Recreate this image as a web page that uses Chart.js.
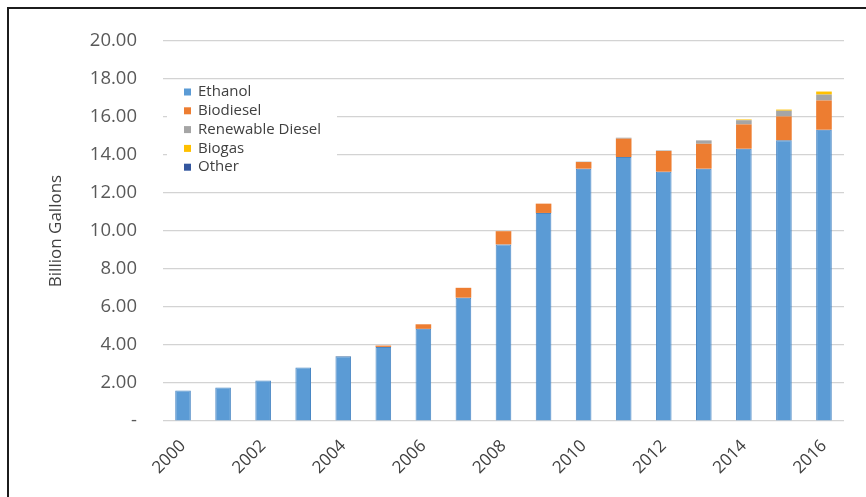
<!DOCTYPE html>
<html lang="en">
<head>
  <meta charset="UTF-8" />
  <title>Biofuel Consumption</title>
  <script src="https://cdn.jsdelivr.net/npm/chart.js"></script>
  <style>
    html, body { margin: 0; padding: 0; background: #fff; }
    #wrap { position: relative; width: 866px; height: 497px; }
    #frame {
      position: absolute; left: 7px; top: 7px; right: 0; bottom: 0;
      border-left: 2px solid #1c1c1c; border-top: 2px solid #1c1c1c;
      pointer-events: none;
    }
  </style>
</head>
<body>
  <div id="wrap">
    <canvas id="fuelChart" width="866" height="497"></canvas>
    <div id="frame"></div>
  </div>

  <script>
    // data (billion gallons)
    const years = ["2000", "2001", "2002", "2003", "2004", "2005", "2006", "2007", "2008",
                   "2009", "2010", "2011", "2012", "2013", "2014", "2015", "2016"];
    const ethanol = [1.61, 1.76, 2.13, 2.81, 3.41, 3.90, 4.85, 6.49, 9.29,
                     10.95, 13.28, 13.89, 13.12, 13.28, 14.33, 14.77, 15.33];
    const biodiesel = [0, 0, 0, 0, 0.01, 0.07, 0.24, 0.52, 0.70,
                       0.49, 0.35, 0.97, 1.09, 1.31, 1.28, 1.26, 1.54];
    const renewableDiesel = [0, 0, 0, 0, 0, 0, 0, 0, 0,
                             0, 0.02, 0.05, 0.03, 0.18, 0.22, 0.30, 0.31];
    const biogas = [0, 0, 0, 0, 0, 0, 0, 0, 0,
                    0, 0, 0, 0, 0, 0.04, 0.06, 0.16];
    const other = [0, 0, 0, 0, 0, 0, 0, 0, 0,
                   0, 0, 0, 0, 0, 0, 0, 0];
    const yTicks = [0, 2, 4, 6, 8, 10, 12, 14, 16, 18, 20];

    const FONT = "'Open Sans', 'DejaVu Sans', sans-serif";

    // legend sits inside the plot, over the gridlines, with a white box behind it
    const insideLegend = {
      id: "insideLegend",
      afterDatasetsDraw(chart) {
        const ctx = chart.ctx;
        const area = chart.chartArea;
        const x0 = area.left + 4, y0 = area.top + 42;
        ctx.save();
        ctx.fillStyle = "#fff";
        ctx.fillRect(x0, y0, 170, 92);
        ctx.font = "15px " + FONT;
        ctx.textBaseline = "middle";
        chart.data.datasets.forEach((ds, i) => {
          const cy = y0 + 9 + i * 18.8;
          ctx.fillStyle = ds.backgroundColor;
          ctx.fillRect(x0 + 17, cy - 3.5, 7, 7);
          ctx.fillStyle = "#404040";
          ctx.fillText(ds.label, x0 + 31, cy);
        });
        ctx.restore();
      }
    };

    new Chart(document.getElementById("fuelChart"), {
      type: "bar",
      data: {
        labels: years,
        datasets: [
          { label: "Ethanol", data: ethanol, backgroundColor: "#5b9bd5", borderColor: "#4a87c4", borderWidth: 1 },
          { label: "Biodiesel", data: biodiesel, backgroundColor: "#ed7d31" },
          { label: "Renewable Diesel", data: renewableDiesel, backgroundColor: "#a5a5a5" },
          { label: "Biogas", data: biogas, backgroundColor: "#ffc000" },
          { label: "Other", data: other, backgroundColor: "#33569e" }
        ]
      },
      options: {
        responsive: false,
        animation: false,
        layout: { padding: { top: 41, right: 22, left: 0, bottom: 0 } },
        datasets: { bar: { categoryPercentage: 1, barPercentage: 0.39 } },
        plugins: { legend: { display: false }, tooltip: { enabled: false } },
        scales: {
          x: {
            stacked: true,
            grid: { display: false },
            border: { display: false },
            ticks: {
              autoSkip: false,
              minRotation: 45,
              maxRotation: 45,
              padding: 7,
              color: "#404040",
              font: { family: FONT, size: 17 },
              callback(val, idx) { return idx % 2 === 0 ? this.getLabelForValue(val) : ""; }
            },
            afterFit(scale) { scale.height = 76; }
          },
          y: {
            stacked: true,
            min: 0,
            max: 20,
            afterBuildTicks(scale) { scale.ticks = yTicks.map(v => ({ value: v })); },
            grid: { color: "#d3d3d3", lineWidth: 1.2, drawTicks: false },
            border: { display: false },
            ticks: {
              padding: 26,
              color: "#595959",
              font: { family: FONT, size: 18.5 },
              callback(v) { return v === 0 ? "-" : v.toFixed(2); }
            },
            title: {
              display: true,
              text: "Billion Gallons",
              color: "#404040",
              font: { family: FONT, size: 17 },
              padding: { top: 46, bottom: 0 }
            },
            afterFit(scale) { scale.width = 163; }
          }
        }
      },
      plugins: [insideLegend]
    });
  </script>
</body>
</html>
